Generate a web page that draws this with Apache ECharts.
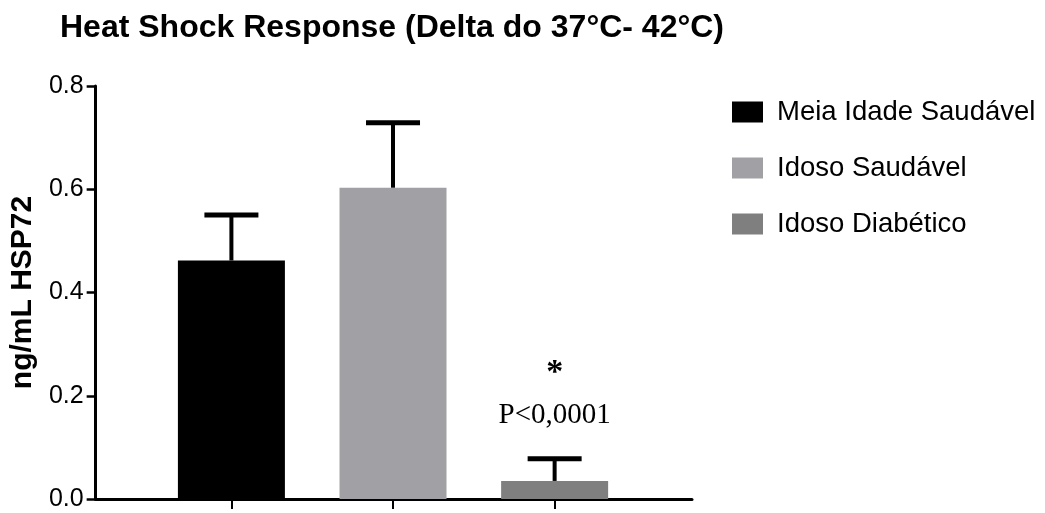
<!DOCTYPE html>
<html>
<head>
<meta charset="utf-8">
<script src="https://cdn.jsdelivr.net/npm/echarts@6/dist/echarts.min.js"></script>
<style>
  html, body { margin: 0; padding: 0; background: #fff; }
  #chart { width: 1045px; height: 513px; }
</style>
</head>
<body>
<div id="chart"></div>
<script>
// group names and their slot on the x axis
const groups = ['Meia Idade Saudável', 'Idoso Saudável', 'Idoso Diabético']
const slots = [1, 2, 3]
// mean ng/mL HSP72 and upper error (SEM)
const means = [0.462, 0.603, 0.035]
const errors = [0.088, 0.126, 0.043]
const colors = ['#000000', '#a1a0a5', '#7f7f7f']
const yTicks = [0, 0.2, 0.4, 0.6, 0.8]

const FONT = '"Liberation Sans", Arial, sans-serif'
const SERIF = '"Liberation Serif", "Times New Roman", serif'

const chart = echarts.init(document.getElementById('chart'))

const barSeries = groups.map((name, i) => ({
  name,
  type: 'bar',
  data: [[slots[i], means[i]]],
  barWidth: 107,
  barGap: '-100%',
  itemStyle: { color: colors[i] },
  emphasis: { disabled: true },
}))

const errorSeries = {
  type: 'custom',
  name: 'erro',
  z: 5,
  data: slots.map((s, i) => [s, means[i], errors[i]]),
  encode: { x: 0, y: 1 },
  renderItem: (params, api) => {
    const x = api.value(0)
    const v = api.value(1)
    const e = api.value(2)
    const base = api.coord([x, v])
    const top = api.coord([x, v + e])
    return {
      type: 'group',
      children: [
        {
          type: 'line',
          shape: { x1: base[0], y1: base[1], x2: top[0], y2: top[1] },
          style: { stroke: '#000', lineWidth: 4 },
        },
        {
          type: 'line',
          shape: { x1: top[0] - 27, y1: top[1], x2: top[0] + 27, y2: top[1] },
          style: { stroke: '#000', lineWidth: 5 },
        },
      ],
    }
  },
}

const option = {
  animation: false,
  title: {
    text: 'Heat Shock Response (Delta do 37°C- 42°C)',
    left: 55,
    top: 7,
    textStyle: { fontFamily: FONT, fontWeight: 'bold', fontSize: 32, color: '#000' },
  },
  legend: {
    data: groups,
    orient: 'vertical',
    left: 727,
    top: 93,
    icon: 'rect',
    itemWidth: 31,
    itemHeight: 21,
    itemGap: 28,
    selectedMode: false,
    textStyle: {
      fontFamily: FONT,
      fontSize: 27.5,
      color: '#000',
      padding: [0, 0, 0, 9],
    },
  },
  grid: { left: 94, top: 86, width: 598, height: 413 },
  xAxis: {
    type: 'value',
    min: 0.16,
    max: 3.85,
    splitLine: { show: false },
    axisLine: { show: true, lineStyle: { color: '#000', width: 3 } },
    axisTick: { show: true, customValues: slots, length: 10, lineStyle: { color: '#000', width: 2 } },
    axisLabel: { show: false },
  },
  yAxis: {
    type: 'value',
    min: 0,
    max: 0.8,
    interval: 0.2,
    name: 'ng/mL HSP72',
    nameLocation: 'middle',
    nameRotate: 90,
    nameGap: 52,
    nameTextStyle: { fontFamily: FONT, fontWeight: 'bold', fontSize: 30, color: '#000' },
    splitLine: { show: false },
    axisLine: { show: true, lineStyle: { color: '#000', width: 3 } },
    axisTick: { show: true, length: 9, lineStyle: { color: '#000', width: 2.5 } },
    axisLabel: {
      margin: 12,
      fontFamily: FONT,
      fontSize: 25,
      color: '#000',
      formatter: (v) => v.toFixed(1),
    },
  },
  series: [...barSeries, errorSeries],
}

chart.setOption(option)

// significance note above the diabetic group
const anchor = chart.convertToPixel({ gridIndex: 0 }, [slots[2], means[2] + errors[2]])
chart.setOption({
  graphic: [
    {
      type: 'text',
      x: anchor[0],
      y: anchor[1] - 86,
      style: {
        text: '*',
        font: 'bold 34px ' + SERIF,
        fill: '#000',
        align: 'center',
        verticalAlign: 'middle',
      },
    },
    {
      type: 'text',
      x: anchor[0],
      y: anchor[1] - 43,
      style: {
        text: 'P<0,0001',
        font: '29px ' + SERIF,
        fill: '#000',
        align: 'center',
        verticalAlign: 'middle',
      },
    },
  ],
})
</script>
</body>
</html>
